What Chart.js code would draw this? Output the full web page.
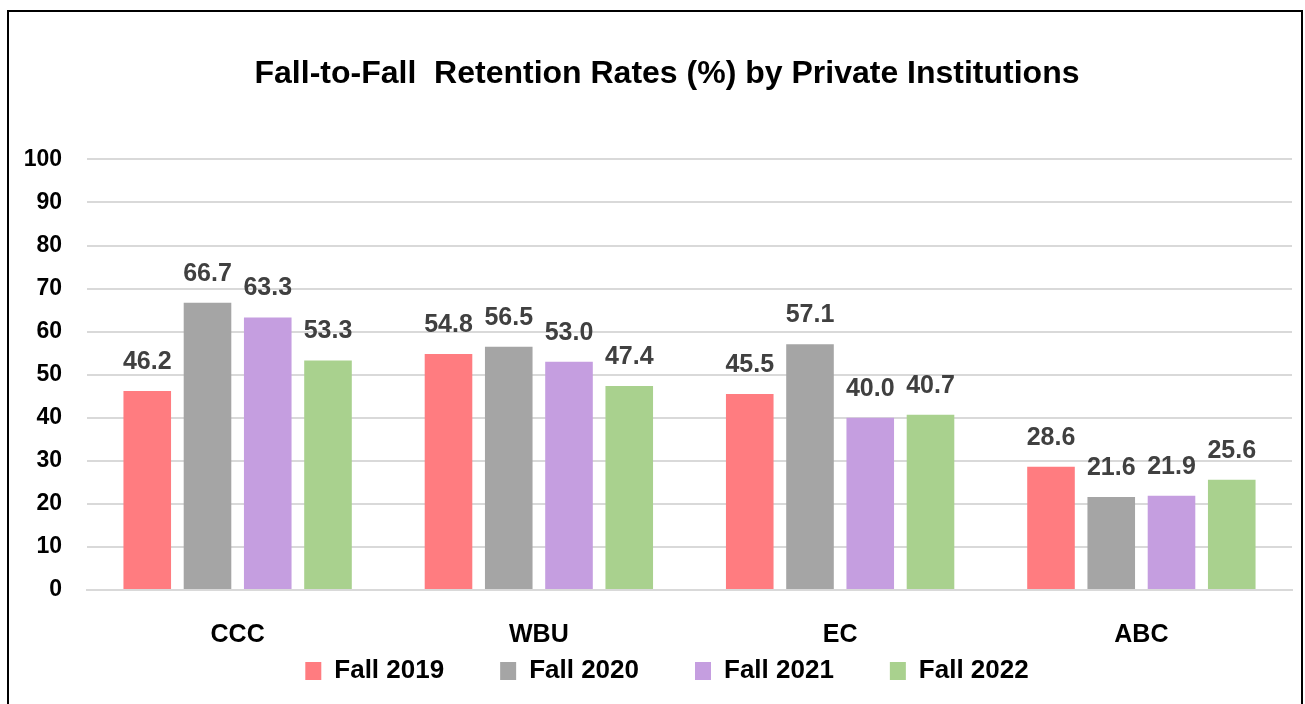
<!DOCTYPE html>
<html>
<head>
<meta charset="utf-8">
<title>Fall-to-Fall Retention Rates</title>
<script src="https://cdn.jsdelivr.net/npm/chart.js@4.4.0/dist/chart.umd.min.js"></script>
<style>
  body { margin: 0; background: #fff; }
  #wrap { position: relative; width: 1305px; height: 704px; overflow: hidden; }
  #frame { position: absolute; left: 7px; top: 10px; width: 1292px; height: 720px; border: 2px solid #000; pointer-events: none; }
</style>
</head>
<body>
<div id="wrap">
  <canvas id="retentionChart" width="1305" height="704"></canvas>
  <div id="frame"></div>
</div>
<script>
// chart data
const institutions = ['CCC', 'WBU', 'EC', 'ABC'];
const fall2019 = [46.2, 54.8, 45.5, 28.6];
const fall2020 = [66.7, 56.5, 57.1, 21.6];
const fall2021 = [63.3, 53.0, 40.0, 21.9];
const fall2022 = [53.3, 47.4, 40.7, 25.6];
const yTicks = [0, 10, 20, 30, 40, 50, 60, 70, 80, 90, 100];

const FONT = "'Liberation Sans', Arial, sans-serif";

// draws the value above each bar
const barValues = {
  id: 'barValues',
  afterDatasetsDraw(chart) {
    const ctx = chart.ctx;
    ctx.save();
    ctx.font = 'bold 25px ' + FONT;
    ctx.fillStyle = '#404040';
    ctx.textAlign = 'center';
    ctx.textBaseline = 'alphabetic';
    chart.data.datasets.forEach((ds, i) => {
      chart.getDatasetMeta(i).data.forEach((bar, j) => {
        ctx.fillText(ds.data[j].toFixed(1), bar.x, bar.y - 22);
      });
    });
    ctx.restore();
  }
};

function makeSet(label, data, color) {
  return {
    label,
    data,
    backgroundColor: color,
    borderWidth: 0,
    categoryPercentage: 0.8,
    barPercentage: 0.79
  };
}

// axis boxes are squeezed to fit the layout, so let their labels draw outside them
function noLabelClip(scale) {
  scale._computeLabelArea = () => undefined;
}

new Chart(document.getElementById('retentionChart'), {
  type: 'bar',
  data: {
    labels: institutions,
    datasets: [
      makeSet('Fall 2019', fall2019, '#FF7C80'),
      makeSet('Fall 2020', fall2020, '#A5A5A5'),
      makeSet('Fall 2021', fall2021, '#C59EE0'),
      makeSet('Fall 2022', fall2022, '#A9D18E')
    ]
  },
  options: {
    responsive: false,
    animation: false,
    layout: { padding: { left: 42, right: 13, top: 0, bottom: 10 } },
    plugins: {
      title: {
        display: true,
        text: 'Fall-to-Fall  Retention Rates (%) by Private Institutions',
        color: '#000',
        font: { family: FONT, size: 32, weight: 'bold' },
        padding: { top: 55, bottom: 66 }
      },
      legend: {
        position: 'bottom',
        labels: {
          boxWidth: 16,
          boxHeight: 18,
          padding: 56,
          color: '#000',
          font: { family: FONT, size: 26, weight: 'bold' }
        }
      },
      tooltip: { enabled: false }
    },
    scales: {
      x: {
        grid: { display: false },
        border: { display: true, color: '#d9d9d9', width: 2 },
        ticks: {
          color: '#000',
          padding: 22,
          font: { family: FONT, size: 25, weight: 'bold' }
        },
        afterFit(scale) { scale.height = 12; noLabelClip(scale); }
      },
      y: {
        min: 0,
        max: 100,
        afterBuildTicks(scale) { scale.ticks = yTicks.map(v => ({ value: v })); },
        grid: { color: '#d9d9d9', lineWidth: 2, drawTicks: false },
        border: { display: false },
        ticks: {
          color: '#000',
          padding: 25,
          font: { family: FONT, size: 23, weight: 'bold' }
        },
        afterFit(scale) { scale.width = 45; noLabelClip(scale); }
      }
    }
  },
  plugins: [barValues]
});
</script>
</body>
</html>
